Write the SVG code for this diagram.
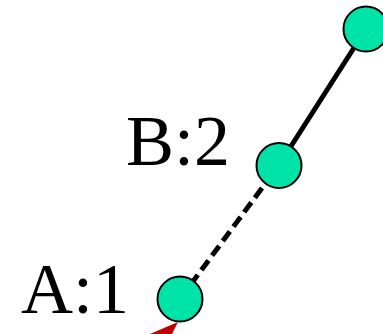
<svg xmlns="http://www.w3.org/2000/svg" width="383" height="334" viewBox="0 0 383 334">
<style>
.node{fill:#00e3a8;stroke:#000;stroke-width:2}
.lbl{font-family:"Liberation Serif",serif;font-size:72px;fill:#000}
.edge{stroke:#000;stroke-width:5;fill:none}
</style>
<rect width="383" height="334" fill="#fff"/>
<g id="connectors">
<line class="edge" x1="279" y1="165" x2="366" y2="29"/>
<line class="edge" x1="180" y1="299" x2="279" y2="165" stroke-dasharray="12,6"/>
<polygon points="150,334 178,322 172,334" fill="#c00000"/>
</g>
<g id="A"><circle class="node" cx="180" cy="299" r="22.5"/><text class="lbl" x="21" y="313">A:1</text></g>
<g id="B"><circle class="node" cx="279" cy="165.5" r="22.5"/><text class="lbl" x="126" y="165">B:2</text></g>
<g id="C"><circle class="node" cx="366" cy="29" r="22.5"/></g>
</svg>
